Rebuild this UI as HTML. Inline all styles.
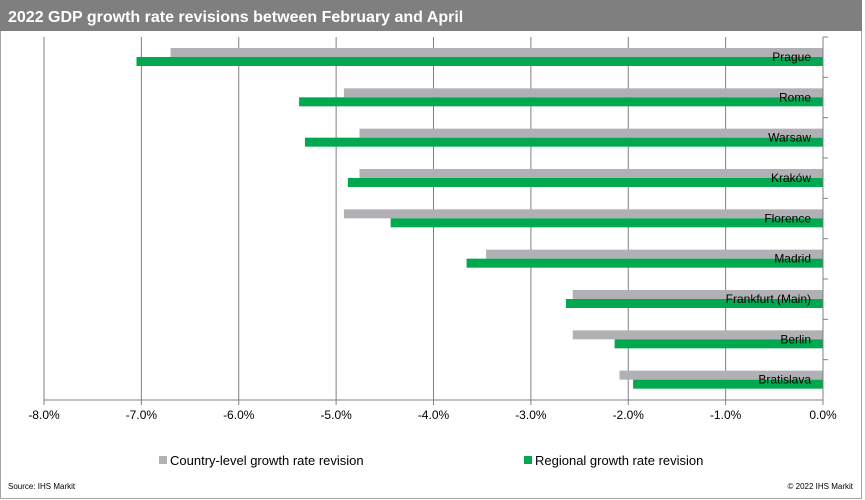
<!DOCTYPE html>
<html><head><meta charset="utf-8"><style>
body{margin:0;background:#fff;font-family:"Liberation Sans",Arial,sans-serif}
#wrap{position:relative;width:865px;height:500px;overflow:hidden}
svg text{font-family:"Liberation Sans",Arial,sans-serif}
</style></head><body>
<div id="wrap">
<svg id="chart" width="865" height="500">
<rect x="0.5" y="0.5" width="861" height="498" fill="#fff" stroke="#a6a6a6"/>
<rect x="0" y="0" width="862" height="31" fill="#7f7f7f"/>
<text x="8" y="22" font-size="16" font-weight="bold" fill="#fff">2022 GDP growth rate revisions between February and April</text>
<g id="grid"></g><g id="bars"></g><g id="axis"></g>
<rect x="159" y="456" width="8" height="8" fill="#b1b1b5"/>
<text x="170" y="465" font-size="13" fill="#000">Country-level growth rate revision</text>
<rect x="524" y="456" width="8" height="8" fill="#00a84f"/>
<text x="535" y="465" font-size="13" fill="#000">Regional growth rate revision</text>
<text x="8" y="489" font-size="8" fill="#000">Source:  IHS Markit</text>
<text x="853" y="489" font-size="8" fill="#000" text-anchor="end">© 2022  IHS Markit</text>
</svg></div>
<script>
const categories=["Prague","Rome","Warsaw","Kraków","Florence","Madrid","Frankfurt (Main)","Berlin","Bratislava"];
const countryValues=[-6.7,-4.92,-4.76,-4.76,-4.92,-3.46,-2.57,-2.57,-2.09];
const regionalValues=[-7.05,-5.38,-5.32,-4.88,-4.44,-3.66,-2.64,-2.14,-1.95];
const xTicks=[-8,-7,-6,-5,-4,-3,-2,-1,0];
const NS="http://www.w3.org/2000/svg";
const x0=44,x1=823,plotTop=37,plotBottom=400;
const xs=v=>x1+(v-0)*(x1-x0)/8;
const band=(plotBottom-plotTop)/categories.length;
function mk(t,a,p){const e=document.createElementNS(NS,t);for(const k in a)e.setAttribute(k,a[k]);p.appendChild(e);return e;}
const grid=document.getElementById('grid'),bars=document.getElementById('bars'),axis=document.getElementById('axis');
xTicks.forEach(t=>{
 const g=mk('line',{x1:xs(t),x2:xs(t),y1:plotTop,y2:plotBottom+5,stroke:'#808080','stroke-width':1},grid);
 
 
 const l=mk('text',{x:xs(t),y:plotBottom+19,'font-size':12,'text-anchor':'middle',fill:'#000'},axis);
 l.textContent=t.toFixed(1)+'%';
 
 
});
categories.forEach((c,i)=>{
 const y=plotTop+i*band;
 const g=mk('rect',{x:xs(countryValues[i]),y:y+11,width:xs(0)-xs(countryValues[i]),height:9,fill:'#b1b1b5'},bars);
 
 
 const r=mk('rect',{x:xs(regionalValues[i]),y:y+20,width:xs(0)-xs(regionalValues[i]),height:9,fill:'#00a84f'},bars);
 
 
 const l=mk('text',{x:811,y:y+24,'font-size':12,'text-anchor':'end',fill:'#000'},axis);
 l.textContent=c;
 
 
 const tk=mk('line',{x1:x1,x2:x1+5,y1:y,y2:y,stroke:'#808080'},axis);
 
 
});
const ax=mk('line',{x1:x0,x2:x1,y1:plotBottom,y2:plotBottom,stroke:'#808080'},axis);


const ay=mk('line',{x1:x1,x2:x1,y1:plotTop,y2:plotBottom,stroke:'#808080'},axis);


</script>
</body></html>
